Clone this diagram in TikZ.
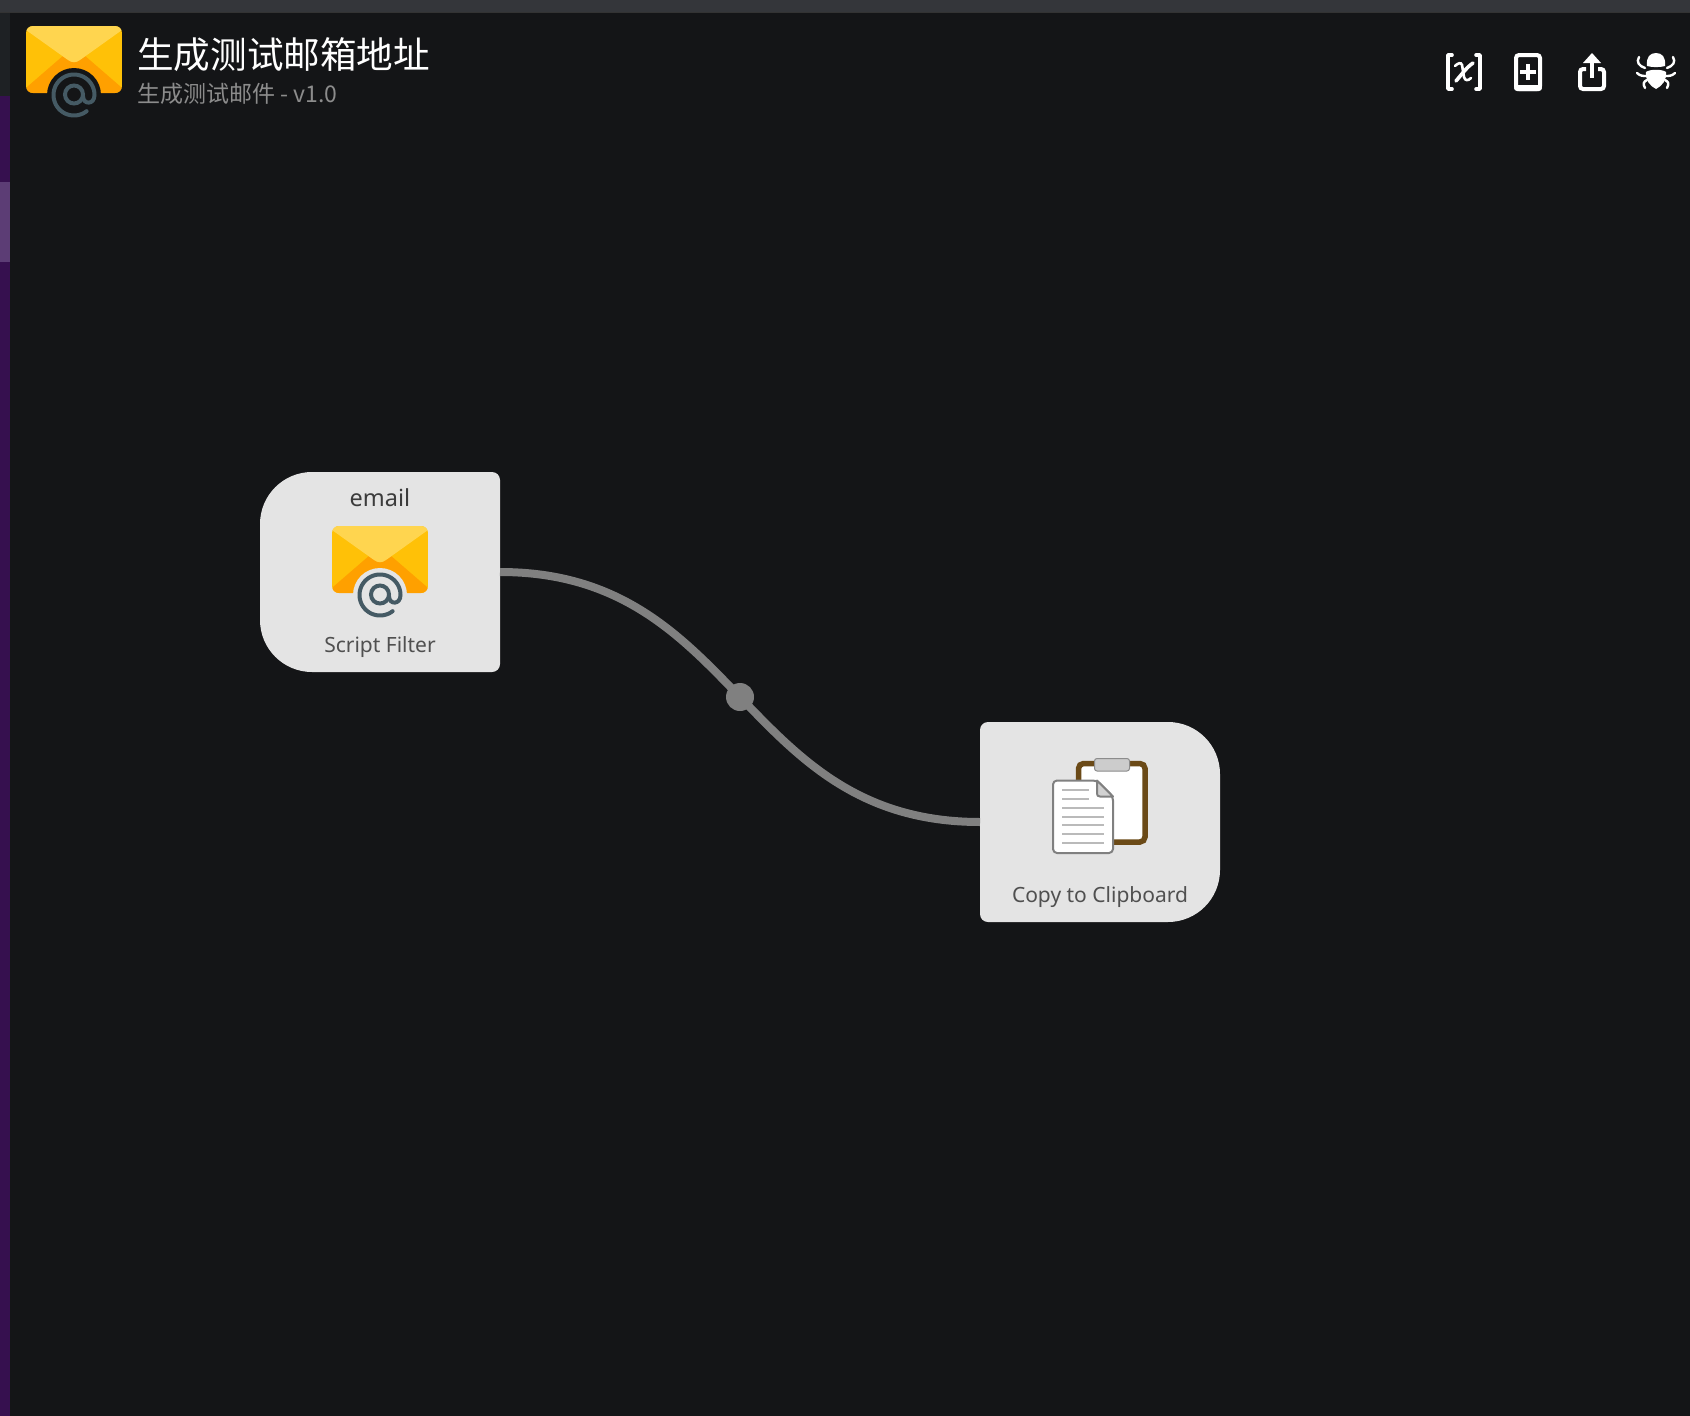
\documentclass[tikz,border=0pt]{standalone}
\usepackage{fontspec}
\setmainfont{Noto Sans}
\newfontfamily\cjk{Noto Sans CJK SC}
\definecolor{bgc}{HTML}{141517}
\definecolor{barc}{HTML}{34363A}
\definecolor{stripa}{HTML}{1E2124}
\definecolor{stripb}{HTML}{36104F}
\definecolor{stripc}{HTML}{5C3D75}
\definecolor{cardc}{HTML}{E4E4E4}
\definecolor{wirec}{HTML}{808080}
\definecolor{mailbase}{HTML}{FFC107}
\definecolor{mailflap}{HTML}{FFD54F}
\definecolor{mailfold}{HTML}{FFA000}
\definecolor{atc}{HTML}{455A64}
\definecolor{brownc}{HTML}{6B4A17}
\tikzset{
  x=1pt,y=-1pt,
  anchorbox/.style={rectangle,minimum width=240pt,minimum height=200pt,inner sep=0pt,outer sep=0pt},
  wire/.style={wirec,line width=8pt},
  toolicon/.style={white,line width=4pt},
  ttl/.style={inner sep=0pt,anchor=west,white,font=\cjk\fontsize{36.6}{40}\selectfont},
  subttl/.style={inner sep=0pt,anchor=west,color={rgb,255:red,140;green,140;blue,140},font=\cjk\fontsize{23}{26}\selectfont},
  cardtitle/.style={inner sep=0pt,color={rgb,255:red,60;green,60;blue,60},font=\fontsize{23.5}{28}\selectfont},
  cardsub/.style={inner sep=0pt,color={rgb,255:red,80;green,80;blue,80},font=\fontsize{21}{24}\selectfont},
}
\newcommand{\mailicon}[3]{%
  \begin{scope}[shift={(#1,#2)}]
    \begin{scope}
      \clip[rounded corners=7pt] (26,26) rectangle (122,93);
      \fill[mailbase] (26,26) rectangle (122,93);
      \fill[mailfold] (27,87) -- (64,55) -- (84,55) -- (121,87) -- (122,93) -- (26,93) -- cycle;
      \fill[mailflap] (26,26) -- (122,26) -- (122,30) -- (80,60) .. controls (76,63) and (72,63) .. (68,60) -- (26,30) -- cycle;
    \end{scope}
    \fill[#3] (74,95) circle[radius=27pt];
    \draw[atc,line width=4pt,line cap=round] plot[domain=52:360,samples=70,smooth] ({74+20.5*cos(\x)},{95+20.5*sin(\x)})
      .. controls (94.5,105) and (83,105) .. (83,96);
    \draw[atc,line width=4pt] (74,94.5) circle[radius=9pt];
  \end{scope}}
\begin{document}
\begin{tikzpicture}
\useasboundingbox (0,0) rectangle (1690,1416);
\fill[bgc] (0,0) rectangle (1690,1416);
\fill[barc] (0,0) rectangle (1690,12);
\fill[black!80] (0,12) rectangle (1690,13);
\fill[stripa] (0,13) rectangle (10,96);
\fill[stripb] (0,96) rectangle (10,182);
\fill[stripc] (0,182) rectangle (10,262);
\fill[stripb] (0,262) rectangle (10,1416);

% header
\mailicon{0}{0}{bgc}
\node[ttl] (title) at (137,55) {生成测试邮箱地址};
\node[subttl] (subtitle) at (137,94) {生成测试邮件 - v1.0};

% toolbar: variables
\draw[toolicon,line cap=round,line join=round,line width=3.6pt] (1452,55) -- (1448,55) -- (1448,89) -- (1452,89);
\draw[toolicon,line cap=round,line join=round,line width=3.6pt] (1476,55) -- (1480,55) -- (1480,89) -- (1476,89);
\draw[white,line width=2.6pt,line cap=round] (1455,66) .. controls (1458,63) and (1461,62) .. (1462,65) -- (1464,77) .. controls (1465,81) and (1468,81) .. (1471,78);
\draw[white,line width=3.6pt,line cap=round] (1473,63) .. controls (1467,67) and (1462,74) .. (1456,81);

% toolbar: add
\draw[white,line width=4pt,rounded corners=3pt,fill=bgc] (1516,55) rectangle (1540,89);
\fill[white,rounded corners=3pt] (1514,85) rectangle (1542,91);
\draw[white,line width=3.6pt] (1520,72) -- (1536,72) (1528,64) -- (1528,80);
% toolbar: share
\draw[white,line width=4pt,rounded corners=3pt] (1586,69) -- (1580,69) -- (1580,89) -- (1604,89) -- (1604,69) -- (1598,69);
\draw[white,line width=4pt] (1592,60) -- (1592,78);
\fill[white] (1592,53) -- (1601,63) -- (1583,63) -- cycle;
% toolbar: debugger
\fill[white] (1647,66) .. controls (1646,57) and (1650,53) .. (1656,53) .. controls (1662,53) and (1666,57) .. (1665,66) .. controls (1660,67.5) and (1652,67.5) .. (1647,66) -- cycle;
\fill[white] (1646,72) .. controls (1650,69) and (1662,69) .. (1666,72) .. controls (1667,80) and (1662,86) .. (1656,89) .. controls (1650,86) and (1645,80) .. (1646,72) -- cycle;
\foreach \s in {-1,1}{
  \draw[white,line width=2.4pt,line cap=round] ({1656+\s*17},57) .. controls ({1656+\s*20},62) and ({1656+\s*17},66) .. ({1656+\s*11},68);
  \draw[white,line width=2.4pt,line cap=round] ({1656+\s*19},73) .. controls ({1656+\s*16},76) and ({1656+\s*13},76) .. ({1656+\s*9},76);
  \draw[white,line width=2.4pt,line cap=round] ({1656+\s*11},88) .. controls ({1656+\s*13},84) and ({1656+\s*13},82) .. ({1656+\s*9},80);
}

% cards
\fill[cardc] (380,472) [rounded corners=8pt] -- (500,472) -- (500,672) [rounded corners=52pt] -- (260,672) -- (260,472) [sharp corners] -- cycle;
\node[anchorbox] (filter) at (380,572) {};
\node[cardtitle] (filtertitle) at (380,498) {email};
\mailicon{306}{500}{cardc}
\node[cardsub] (filtersub) at (380,647) {Script Filter};

\fill[cardc] (1100,722) [rounded corners=52pt] -- (1220,722) -- (1220,922) [rounded corners=8pt] -- (980,922) -- (980,722) [sharp corners] -- cycle;
\node[anchorbox] (clip) at (1100,822) {};
\node[cardsub] (clipsub) at (1100,897) {Copy to Clipboard};

% clipboard icon
\draw[brownc,line width=5.5pt,fill=white,rounded corners=5pt] (1078.5,763.5) rectangle (1145,842);
\fill[white] (1098,760) rectangle (1126,766);
\draw[black!45,fill=black!20,line width=1pt,rounded corners=2.5pt] (1094.5,758.5) rectangle (1129.5,771);
\draw[black!50,fill=white,line width=2pt,rounded corners=4pt,line join=round] (1053,780.5) -- (1097,780.5) -- (1113,796.5) -- (1113,853) -- (1053,853) -- cycle;
\draw[black!50,fill=black!18,line width=2pt,line join=round] (1097,780.5) -- (1113,796.5) -- (1100,796.5) .. controls (1098,796.5) and (1097,795.5) .. (1097,793.5) -- cycle;
\draw[black!27,line width=2pt]
  (1062,790) -- (1089,790) (1062,798.7) -- (1089,798.7)
  (1062,807.7) -- (1104,807.7) (1062,816.7) -- (1104,816.7) (1062,825.3) -- (1104,825.3)
  (1062,834.3) -- (1104,834.3) (1062,843.3) -- (1104,843.3);

% connector
\draw[wire] (filter.east) .. controls (740,572) and (740,822) .. (clip.west) node[midway,circle,fill=wirec,draw=none,minimum size=28pt,inner sep=0pt] (joint) {};
\end{tikzpicture}
\end{document}
